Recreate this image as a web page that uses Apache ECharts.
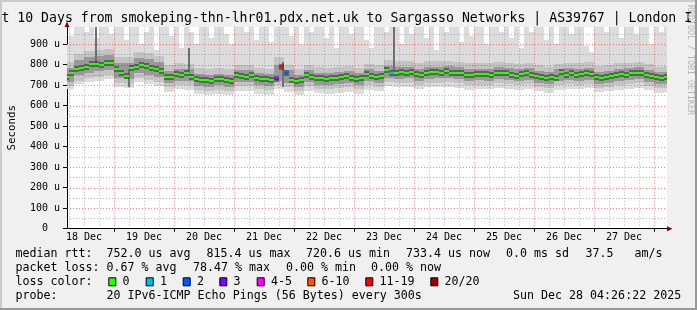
<!DOCTYPE html>
<html><head><meta charset="utf-8">
<script src="https://cdn.jsdelivr.net/npm/echarts@6/dist/echarts.min.js"></script>
<style>html,body{margin:0;padding:0;background:#f0f0f0;}#c{width:697px;height:310px;}</style>
</head><body><div id="c"></div>
<script>
// ---------------- data ----------------
const titleText = 't 10 Days from smokeping-thn-lhr01.pdx.net.uk to Sargasso Networks | AS39767 | London I';
const yAxisName = 'Seconds';
const xRange = [5.2, 245.2];            // hours after 18 Dec 00:00
const yMax = 984;                        // microseconds
const dayLabels = ['18 Dec','19 Dec','20 Dec','21 Dec','22 Dec','23 Dec','24 Dec','25 Dec','26 Dec','27 Dec'];
const dayLabelHours = [12,36,60,84,108,132,156,180,204,228];
const majorGridHours = [24,48,72,96,120,144,168,192,216,240];
const yTicks = [0,100,200,300,400,500,600,700,800,900];
const yTickLabels = ['0  ','100 u','200 u','300 u','400 u','500 u','600 u','700 u','800 u','900 u'];

// median rtt (us), 2-hour steps starting at hour 4
const medianStart = 4, medianStep = 2;
const medianRtt = [
741,758,777,785,790,802,803,800,806,810,
777,760,745,782,790,798,792,782,778,768,
741,738,753,750,760,741,728,725,724,720,
728,730,725,722,748,745,738,750,733,730,
728,725,730,790,760,725,722,725,750,741,
733,733,728,733,733,738,745,733,728,733,
755,745,741,745,774,758,758,766,761,766,
755,750,758,766,766,761,768,761,760,758,
750,752,753,753,755,750,758,761,758,750,
745,753,758,750,745,741,733,738,733,766,
750,758,750,755,758,755,741,733,741,745,
750,753,750,758,761,758,750,745,738,733,
738];
// lost pings (of 20) for each median step
const medianLoss = [
0,0,0,0,0,0,0,0,0,0, 0,0,0,0,0,0,0,0,0,0,
0,0,0,0,0,0,0,0,0,0, 0,0,0,0,0,0,0,0,0,0,
0,0,3,15,2,0,0,0,0,0, 0,0,0,0,0,0,0,0,0,0,
0,0,0,0,0,1,0,0,0,0, 0,0,0,0,0,0,0,0,0,0,
0,0,0,0,0,0,0,0,0,0, 0,0,0,0,0,0,0,0,0,0,
0,0,0,0,0,0,0,0,0,0, 0,0,0,0,0,0,0,0,0,0,
0];
// highest ping (us), 2-hour steps starting at hour 4
const smokeMax = [
900,940,984,984,960,984,930,984,984,950,
984,984,920,984,984,900,960,984,870,984,
984,940,984,880,984,960,900,984,984,930,
984,984,950,900,984,984,960,984,920,984,
984,910,984,984,984,940,984,900,984,960,
984,984,930,984,880,984,984,950,984,984,
920,880,984,984,960,984,984,900,984,950,
984,984,930,984,870,984,960,984,984,910,
984,940,984,984,900,984,984,960,984,930,
984,880,984,960,984,984,920,984,900,984,
984,950,984,984,890,860,984,984,960,984,
984,930,984,984,950,984,984,900,984,960,
984];
// smoke percentiles (us), 4-hour steps starting at hour 4
const smokeStart = 4, smokeStep = 4;
const smokeMin = [680,705,716,721,728,690,688,714,707,695, 668,680,678,655,650,657,651,674,672,659, 654,680,668,651,673,661,658,663,667,658, 678,671,694,690,691,680,690,691,692,687, 679,681,680,687,682,677,682,671,663,678, 682,680,684,665,671,679,682,687,675,663, 666];
const smokeP10 = [695,722,736,741,748,712,708,734,727,715, 690,700,700,676,672,679,673,696,694,681, 676,700,690,673,695,683,680,685,689,680, 700,693,716,712,713,702,712,713,714,709, 701,703,702,709,704,699,704,693,685,700, 704,702,706,687,693,701,704,709,697,685, 688];
const smokeP25 = [718,748,762,767,773,735,732,760,752,740, 710,720,720,696,692,699,693,716,714,701, 696,720,710,693,715,703,700,705,709,700, 720,713,736,732,733,722,732,733,734,729, 721,723,722,729,724,719,724,713,705,720, 724,722,726,707,713,721,724,729,717,705, 708];
const smokeP75 = [785,822,836,841,848,810,808,834,827,813, 770,780,778,755,750,757,751,774,772,759, 754,800,772,751,773,761,758,763,767,758, 778,771,794,790,791,780,790,791,792,787, 779,781,780,787,782,777,782,771,763,778, 782,780,784,765,771,779,782,787,775,763, 766];
const smokeP90 = [815,850,866,871,878,840,838,864,857,843, 800,808,805,782,778,784,778,801,799,786, 781,840,800,778,800,788,785,790,794,785, 805,798,821,817,818,807,817,818,819,814, 806,808,807,814,809,804,809,798,790,805, 809,807,811,792,798,806,809,814,802,790, 793];
// single-interval outliers: hour, low, high (us)
const spikeHours = [16.3, 29.5, 53.5, 91.2, 135.5];
const spikeLow   = [800, 690, 760, 693, 770];
const spikeHigh  = [984, 780, 880, 815, 984];

// legend
const lossLegendLabels = ['0','1','2','3','4-5','6-10','11-19','20/20'];
const lossLegendColors = ['#26ff00','#00b8ff','#0059ff','#7e00ff','#ff00ff','#ff5500','#ff0000','#a10000'];
const lossLegendUpper = [0,1,2,3,5,10,19,20];
const legendLine1 = ['median rtt:','752.0 us avg','815.4 us max','720.6 us min','733.4 us now','0.0 ms sd','37.5','am/s'];
const legendLine2 = ['packet loss:','0.67 % avg','78.47 % max','0.00 % min','0.00 % now'];
const legendLine3Head = 'loss color:';
const legendLine4 = ['probe:','20 IPv6-ICMP Echo Pings (56 Bytes) every 300s','Sun Dec 28 04:26:22 2025'];
const creditText = 'RRDTOOL / TOBI OETIKER';

// ---------------- layout / style ----------------
const MONO = '"DejaVu Sans Mono", monospace';
const gridL = 67, gridT = 27, gridW = 600, gridB = 228.7;
const smokeColors = ['#dcdcdc', '#c4c4c4', '#999999'];

function lossColor(n){
  for (let i = 0; i < lossLegendUpper.length; i++) if (n <= lossLegendUpper[i]) return lossLegendColors[i];
  return lossLegendColors[lossLegendColors.length-1];
}
function clampX(v){ return Math.max(xRange[0], Math.min(xRange[1], v)); }

// smoke rectangles: [x0, x1, lo, hi, layer]
const smokeData = [];
smokeMax.forEach((hi, i) => {
  const x0 = medianStart + i*medianStep;
  const lo = smokeMin[Math.floor((x0 - smokeStart)/smokeStep)];
  smokeData.push([clampX(x0), clampX(x0+medianStep), lo, hi, 0]);
});
smokeP10.forEach((lo, j) => {
  const x0 = smokeStart + j*smokeStep;
  smokeData.push([clampX(x0), clampX(x0+smokeStep), lo, smokeP90[j], 1]);
});
smokeP25.forEach((lo, j) => {
  const x0 = smokeStart + j*smokeStep;
  smokeData.push([clampX(x0), clampX(x0+smokeStep), lo, smokeP75[j], 2]);
});
const spikeData = spikeHours.map((h, i) => [h, spikeLow[i], spikeHigh[i]]);
const medianData = medianRtt.map((v, i) => {
  const x0 = medianStart + i*medianStep;
  return [clampX(x0), clampX(x0+medianStep), v, medianLoss[i]];
});

// grid lines: [value, kind] kind 0 = day, 1 = 6h, 2 = 100u, 3 = 50u
const gridData = [];
majorGridHours.forEach(h => gridData.push([h, 0]));
for (let h = 6; h < xRange[1]; h += 6) if (h % 24 !== 0 && h > xRange[0]) gridData.push([h, 1]);
yTicks.forEach(v => { if (v > 0) gridData.push([v, 2]); });
for (let v = 50; v < yMax; v += 100) gridData.push([v, 3]);

const chart = echarts.init(document.getElementById('c'), null, {renderer:'canvas'});

const option = {
  animation: false,
  backgroundColor: '#f0f0f0',
  grid: {left: gridL, top: gridT, width: gridW, height: gridB - gridT, show: true, backgroundColor: '#ffffff', borderWidth: 0,
    containLabel: false, outerBoundsMode: 'none'},
  xAxis: {
    type: 'value', min: xRange[0], max: xRange[1],
    axisLine: {show: true, lineStyle: {color: '#000', width: 1}},
    axisTick: {show: true, customValues: majorGridHours, length: 3, lineStyle: {color: '#000'}},
    axisLabel: {customValues: dayLabelHours, formatter: v => dayLabels[dayLabelHours.indexOf(v)] || '',
      fontFamily: MONO, fontSize: 10, color: '#000', margin: 4},
    splitLine: {show: false}
  },
  yAxis: {
    type: 'value', min: 0, max: yMax, interval: 100,
    name: yAxisName, nameLocation: 'middle', nameGap: 49, nameRotate: 90,
    nameTextStyle: {fontFamily: MONO, fontSize: 10.8, color: '#000'},
    axisLine: {show: true, lineStyle: {color: '#000', width: 1}},
    axisTick: {show: true, customValues: yTicks, length: 4, lineStyle: {color: '#000'}},
    axisLabel: {customValues: yTicks, formatter: v => yTickLabels[yTicks.indexOf(v)] || '',
      fontFamily: MONO, fontSize: 10, color: '#000', margin: 7},
    splitLine: {show: false}
  },
  series: [
    { type: 'custom', z: 1, silent: true, clip: true, data: smokeData,
      renderItem: (p, api) => {
        const a = api.coord([api.value(0), api.value(3)]);
        const b = api.coord([api.value(1), api.value(2)]);
        const x0 = Math.round(a[0]), x1 = Math.round(b[0]);
        const y0 = Math.round(a[1]), y1 = Math.round(b[1]);
        return {type: 'rect', shape: {x: x0, y: y0, width: x1 - x0, height: y1 - y0},
          style: {fill: smokeColors[api.value(4)]}};
      }},
    { type: 'custom', z: 2, silent: true, clip: true, data: spikeData,
      renderItem: (p, api) => {
        const a = api.coord([api.value(0), api.value(2)]);
        const b = api.coord([api.value(0), api.value(1)]);
        const x = Math.round(a[0]);
        return {type: 'rect', shape: {x: x, y: Math.round(a[1]), width: 2, height: Math.round(b[1]) - Math.round(a[1])},
          style: {fill: '#707070'}};
      }},
    { type: 'custom', z: 3, silent: true, clip: true, data: gridData,
      renderItem: (p, api) => {
        const v = api.value(0), k = api.value(1);
        let a, b;
        if (k < 2) { a = api.coord([v, 0]); b = api.coord([v, yMax]); const x = Math.round(a[0]) + 0.5; a[0] = x; b[0] = x; }
        else { a = api.coord([xRange[0], v]); b = api.coord([xRange[1], v]); const y = Math.round(a[1]) + 0.5; a[1] = y; b[1] = y; }
        const major = (k === 0 || k === 2);
        return {type: 'line', shape: {x1: a[0], y1: a[1], x2: b[0], y2: b[1]},
          style: {stroke: major ? 'rgba(255,0,0,0.5)' : 'rgba(110,110,110,0.5)', lineWidth: 1, lineDash: [1, 2]}};
      }},
    { type: 'custom', z: 4, silent: true, clip: true, data: medianData,
      renderItem: (p, api) => {
        const a = api.coord([api.value(0), api.value(2)]);
        const b = api.coord([api.value(1), api.value(2)]);
        const y = Math.round(a[1]);
        return {type: 'group', children: [
          {type: 'rect', shape: {x: Math.round(a[0]), y: y - 3, width: Math.round(b[0]) - Math.round(a[0]), height: 6}, style: {fill: 'rgba(50,50,50,0.55)'}},
          {type: 'rect', shape: {x: Math.round(a[0]), y: y - 1, width: Math.round(b[0]) - Math.round(a[0]), height: 2}, style: {fill: lossColor(api.value(3))}}
        ]};
      }}
  ],
  graphic: []
};

// decorations and legend texts
const g = [];
g.push({type: 'rect', shape: {x: 0, y: 0, width: 697, height: 2}, style: {fill: '#cbcbcb'}, silent: true});
g.push({type: 'rect', shape: {x: 0, y: 0, width: 2, height: 310}, style: {fill: '#cbcbcb'}, silent: true});
g.push({type: 'rect', shape: {x: 0, y: 308, width: 697, height: 2}, style: {fill: '#999999'}, silent: true});
g.push({type: 'rect', shape: {x: 695, y: 0, width: 2, height: 310}, style: {fill: '#999999'}, silent: true});
function txt(s, x, y, size, extra){
  return Object.assign({type: 'text', x: x, y: y, silent: true,
    style: {text: s, font: size + 'px ' + MONO, fill: '#000', textAlign: 'left', textVerticalAlign: 'middle', verticalAlign: 'middle'}}, extra || {});
}
g.push(txt(titleText, 1.4, 19, 13.2));
g.push({type: 'text', x: 690, y: 5, rotation: -Math.PI/2, silent: true,
  style: {text: creditText, font: '8.3px ' + MONO, fill: '#b4b4b4', textAlign: 'left', textVerticalAlign: 'middle', verticalAlign: 'middle'}});
// axis arrows
g.push({type: 'polygon', shape: {points: [[67, 21.5], [64.5, 27], [69.5, 27]]}, style: {fill: '#8b0000'}, silent: true, z: 100});
g.push({type: 'polygon', shape: {points: [[672.5, 228.7], [667, 226.2], [667, 231.2]]}, style: {fill: '#8b0000'}, silent: true, z: 100});
const LF = 11.65;
const row = [254.3, 268.3, 282.3, 296.3];
const line1X = [15.5, 106.5, 206.5, 306, 406, 506, 585.5, 634.5];
legendLine1.forEach((s, i) => g.push(txt(s, line1X[i], row[0], LF)));
const line2X = [15.5, 106.5, 193, 286, 371];
legendLine2.forEach((s, i) => g.push(txt(s, line2X[i], row[1], LF)));
g.push(txt(legendLine3Head, 15.5, row[2], LF));
const boxX = [108.3, 145.7, 182.7, 219.3, 256.7, 307.3, 365.3, 430.3];
lossLegendLabels.forEach((s, i) => {
  g.push({type: 'rect', shape: {x: boxX[i] + 0.5, y: row[2] - 4.5, width: 7, height: 8}, style: {fill: lossLegendColors[i], stroke: '#000', lineWidth: 1}, silent: true});
  g.push(txt(s, boxX[i] + 14.2, row[2], LF));
});
const line4X = [15.5, 106.5, 513];
legendLine4.forEach((s, i) => g.push(txt(s, line4X[i], row[3], LF)));
option.graphic = g;

chart.setOption(option);
</script></body></html>
